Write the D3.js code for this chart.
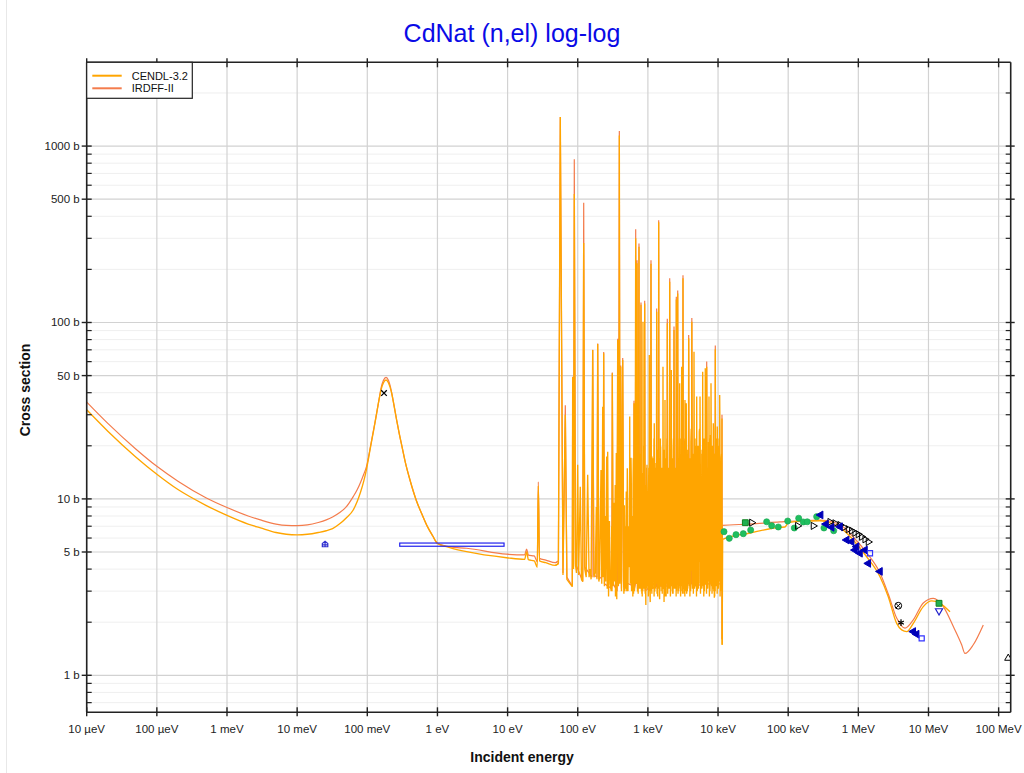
<!DOCTYPE html>
<html><head><meta charset="utf-8">
<script src="https://cdn.jsdelivr.net/npm/d3@7"></script>
<style>
body{margin:0;background:#fff;}
text{font-family:"Liberation Sans",Arial,sans-serif;}
</style>
</head><body>
<svg id="c" width="1024" height="773"></svg>
<script>
// ---------------- data ----------------
const titleText = "CdNat (n,el) log-log";
const xTickValues = [1e-5,1e-4,1e-3,1e-2,1e-1,1,10,100,1e3,1e4,1e5,1e6,1e7,1e8];
const xTickLabels = ["10 µeV","100 µeV","1 meV","10 meV","100 meV","1 eV","10 eV","100 eV","1 keV","10 keV","100 keV","1 MeV","10 MeV","100 MeV"];
const yLabelValues = [1,5,10,50,100,500,1000];
const yLabelTexts = ["1 b","5 b","10 b","50 b","100 b","500 b","1000 b"];
const seriesNames = ["CENDL-3.2","IRDFF-II"];
const seriesColors = ["#ffa500","#f47c4c"];

// CENDL-3.2 [energy eV, cross section b]
const cendlLow = [[1e-5,32.0],[2e-5,24.2],[5e-5,17.3],[1e-4,13.8],[2e-4,11.3],[5e-4,9.2],[1e-3,8.06],[2e-3,7.2],[3e-3,6.85],[5e-3,6.45],[7e-3,6.3],[1e-2,6.25],[1.4e-2,6.3],[2e-2,6.45],[2.6e-2,6.6],[3.2e-2,6.78],[4e-2,7.2],[5e-2,7.8],[6.3e-2,8.65],[7.2e-2,9.7],[8e-2,10.9],[8.9e-2,12.6],[0.098,14.9],[0.105,17.3],[0.113,20.4],[0.125,25.3],[0.136,30.6],[0.147,36.5],[0.157,41.5],[0.17,45.5],[0.185,47.2],[0.2,45.5],[0.22,40.5],[0.24,34],[0.262,28],[0.285,23.5],[0.313,19.7],[0.35,16],[0.406,12.8],[0.5,9.8],[0.6,8.2],[0.703,7.1],[0.85,6.2],[1.0,5.6],[1.5,5.3],[2.61,5.02],[9.7,4.64],[17.5,4.54],[18.7,5.0],[19.8,4.52],[24,4.45],[26.5,4.1],[27.4,11.9],[28.5,4.45],[35,4.35],[48,4.2]];
const cendlRes = [[53,4.3],[56.4,1460],[61.6,3.7],[66.5,30],[70,3.5],[78,3.3],[83.6,3.18],[84.7,49],[87,4.0],[89.3,535],[93,4.2],[96,3.8],[99.8,15.6],[103,3.7],[108.7,11.7],[113,3.5],[117.8,3.4],[121.6,282],[126,4.0],[132,3.6],[138.6,13.7],[145,3.6],[150,4.0],[155,3.5],[163.4,69.8],[170,3.6],[178,3.8],[184,9.0],[188,3.5],[192.5,75.5],[200,3.4],[205,3.7],[214.5,14.6],[220,3.3],[227,33.3],[230,3.6],[234.4,66.9],[240,3.2],[246,8.0],[250,3.4],[258.7,17.4],[263,3.1],[267.3,18.5],[275,2.8],[283,7.5],[290,3.3],[300,3.0],[311,51.5],[320,3.2],[328,9.5],[335,3.4],[345,2.8],[354.7,18.2],[360,2.7],[371.5,79.6],[380,3.2],[391.7,1150],[400,3.3],[409.7,56.1],[420,3.0],[428,12],[437.5,61.3],[450,3.4],[461.3,9.2],[470,3.0],[480,3.1],[492,11],[500,3.0],[508.7,14.9],[520,3.0],[528,7],[535,4.5],[550.8,29.3],[560,3.3],[567,10],[574.6,17.1],[585,3.0],[592,8],[600,3.1],[615,12],[625,2.9],[634,34.8],[642,3.0],[650,3.2],[660,14],[670,300],[685,3.4],[692,9],[699.5,217],[710,3.0],[720,3.0],[732,16],[746.5,269],[758,3.1],[770,3.3],[782,18],[797.6,126],[810,3.0],[820,2.9],[835,13],[851.5,101],[865,3.2],[875,3.1],[887,20],[900,128],[915,2.9],[935,2.5],[952,9],[970,15.6],[985,3.2],[1000,3.2],[1020,11],[1047,65.4],[1065,3.0],[1080,2.6],[1095,12],[1107,215],[1125,3.0],[1143,17.4],[1160,3.3],[1175,13],[1190,3.5],[1210,9],[1233,26.8],[1255,3.0],[1280,3.1],[1305,16],[1334,115],[1355,3.0],[1380,2.8],[1400,14],[1425,370],[1445,3.1],[1470,2.7],[1495,11],[1522,19.8],[1550,3.2],[1580,3.0],[1610,15],[1641,56.1],[1670,3.1],[1700,2.6],[1725,12],[1753,36.4],[1785,3.1],[1820,2.8],[1855,18],[1891,99],[1925,3.2],[1960,3.3],[2000,14],[2046,170],[2075,3.1],[2100,3.0],[2130,16],[2158,53.8],[2200,3.2],[2250,2.9],[2300,19],[2357,90.7],[2400,3.2],[2450,3.1],[2500,15],[2542,135],[2570,3.2],[2600,3.4],[2630,20],[2661,146],[2700,3.2],[2750,3.0],[2800,17],[2840,45.2],[2890,3.2],[2940,3.1],[2990,22],[3034,56.1],[3070,3.2],[3100,3.3],[3130,14],[3165,178],[3220,3.2],[3280,2.9],[3330,19],[3379,36.4],[3420,3.3],[3450,3.2],[3490,16],[3526,34.8],[3590,3.1],[3650,3.0],[3720,18],[3816,81.3],[3900,3.2],[4000,3.3],[4100,21],[4230,101],[4320,3.1],[4400,3.3],[4470,17],[4543,68.3],[4650,3.2],[4750,3.2],[4850,20],[4963,38],[5100,3.1],[5250,3.1],[5400,24],[5533,38],[5650,3.2],[5800,3.3],[5920,19],[6043,52.6],[6170,3.2],[6300,3.2],[6430,22],[6580,55],[6670,3.3],[6750,3.5],[6890,56.1],[7020,3.2],[7150,3.3],[7300,21],[7431,38],[7560,3.3],[7700,3.2],[7820,23],[7937,45.2],[8100,3.2],[8250,3.1],[8400,19],[8557,26.8],[8700,3.0],[8850,2.75],[9000,18],[9140,70.5],[9300,3.2],[9450,3.2],[9600,20],[9754,25.7],[9950,3.3],[10150,3.3],[10350,22],[10550,38.8],[10750,3.2],[10950,3.2],[11150,17],[11380,28.6],[11450,1.49]];
// CENDL-3.2 smaller overlapping resonances (merged with cendlRes by energy)
const cendlResSmall = [[305,7],[308,3.0],[342,12],[348,3.9],[385,5],[388,3.3],[415,9],[418,4.4],[445,15],[455,2.9],[475,7],[477,3.6],[515,10],[517,3.1],[545,6],[547,4.1],[580,13],[582,3.4],[605,8],[610,2.8],[620,17],[622,3.0],[655,9],[657,3.9],[677,6],[680,3.3],[705,12],[707,4.4],[725,5],[727,2.9],[752,11],[755,3.6],[775,16],[777,3.1],[790,7],[793,4.1],[815,10],[818,3.4],[828,6],[830,2.8],[843,14],[846,3.0],[858,8],[861,3.9],[880,18],[883,3.3],[893,9],[896,4.4],[925,12],[930,2.9],[942,6],[946,3.6],[960,15],[964,3.1],[978,8],[981,4.1],[992,11],[996,3.4],
[1010,8],[1014,2.8],[1030,15],[1035,3.0],[1055,6],[1060,3.9],[1088,11],[1091,3.3],[1115,19],[1119,4.4],[1135,9],[1139,2.9],[1152,13],[1156,3.6],[1168,7],[1171,3.1],[1182,17],[1186,4.1],[1200,10],[1205,3.4],[1220,22],[1226,2.8],[1245,12],[1250,3.0],[1268,8],[1273,3.9],[1292,15],[1298,3.3],[1318,6],[1325,4.4],[1345,11],[1350,2.9],[1368,19],[1374,3.6],[1390,9],[1395,3.1],[1412,13],[1418,4.1],[1435,7],[1440,3.4],[1458,17],[1464,2.8],[1482,10],[1488,3.0],[1508,22],[1515,3.9],[1535,12],[1542,3.3],[1565,8],[1572,4.4],[1595,15],[1602,2.9],[1625,6],[1633,3.6],[1655,11],[1662,3.1],[1685,19],[1692,4.1],[1712,9],[1718,3.4],[1740,13],[1746,2.8],[1768,7],[1776,3.0],[1800,17],[1810,3.9],[1838,10],[1846,3.3],[1872,22],[1880,4.4],[1908,12],[1916,2.9],[1942,8],[1950,3.6],[1980,15],[1990,3.1],[2020,6],[2030,4.1],[2060,11],[2068,3.4],[2088,19],[2094,2.8],[2115,9],[2122,3.0],[2145,13],[2150,3.9],[2180,7],[2190,3.3],[2225,17],[2235,4.4],[2275,10],[2285,2.9],[2320,22],[2330,3.6],[2380,12],[2390,3.1],[2425,8],[2435,4.1],[2475,15],[2485,3.4],[2520,6],[2528,2.8],[2555,11],[2562,3.0],[2585,19],[2592,3.9],[2615,9],[2622,3.3],[2645,13],[2652,4.4],[2680,7],[2690,2.9],[2720,17],[2730,3.6],[2775,10],[2785,3.1],[2820,22],[2830,4.1],[2865,12],[2875,3.4],[2915,8],[2925,2.8],[2965,15],[2975,3.0],[3010,6],[3020,3.9],[3050,11],[3060,3.3],[3085,19],[3092,4.4],[3115,9],[3122,2.9],[3145,13],[3150,3.6],[3190,7],[3200,3.1],[3250,17],[3260,4.1],[3305,10],[3315,3.4],[3355,22],[3365,2.8],[3400,12],[3410,3.0],[3435,8],[3442,3.9],[3470,15],[3480,3.3],[3510,6],[3518,4.4],[3555,11],[3570,2.9],[3620,19],[3635,3.6],[3685,9],[3700,3.1],[3750,13],[3765,4.1],[3850,7],[3870,3.4],[3950,17],[3970,2.8],
[4050,13],[4070,3.0],[4150,25],[4170,3.9],[4270,15],[4290,3.3],[4360,11],[4380,4.4],[4430,18],[4450,2.9],[4500,9],[4520,3.6],[4590,14],[4610,3.1],[4700,22],[4720,4.1],[4800,12],[4820,3.4],[4900,16],[4930,2.8],[5000,10],[5030,3.0],[5170,20],[5200,3.9],[5320,13],[5350,3.3],[5460,25],[5500,4.4],[5590,15],[5620,2.9],[5720,11],[5760,3.6],[5860,18],[5890,3.1],[5980,9],[6010,4.1],[6100,14],[6130,3.4],[6230,22],[6260,2.8],[6360,12],[6400,3.0],[6490,16],[6530,3.9],[6620,10],[6640,3.3],[6710,20],[6730,4.4],[6810,13],[6850,2.9],[6950,25],[6990,3.6],[7080,15],[7120,3.1],[7220,11],[7260,4.1],[7370,18],[7400,3.4],[7490,9],[7530,2.8],[7620,14],[7660,3.0],[7760,22],[7790,3.9],[7880,12],[7910,3.3],[8020,16],[8060,4.4],[8170,10],[8210,2.9],[8320,20],[8360,3.6],[8480,13],[8520,3.1],[8620,25],[8660,4.1],[8780,15],[8820,3.4],[8920,11],[8960,2.8],[9070,18],[9110,3.0],[9220,9],[9260,3.9],[9380,14],[9420,3.3],[9530,22],[9570,4.4],[9680,12],[9720,2.9],[9830,16],[9880,3.6],[10050,10],[10100,3.1],[10250,20],[10300,4.1],[10450,13],[10500,3.4],[10650,25],[10700,2.8],[10850,15],[10900,3.0],[11050,11],[11100,3.9],[11250,18],[11300,3.3]];
const cendlHigh = [[11640,5.9],[28500,6.41],[76350,6.90],[90000,6.93],[100200,7.33],[147200,7.46],[283800,7.52],[439500,7.20],[610000,6.66],[847000,5.85],[1.315e6,4.70],[2.036e6,3.62],[2.673e6,2.79],[3.52e6,1.97],[4.15e6,1.81],[4.89e6,1.77],[6.07e6,1.97],[8.43e6,2.45],[1.111e7,2.64],[1.459e7,2.56],[2.027e7,2.29]];

// IRDFF-II [energy eV, cross section b]
const irdffLow = [[1e-5,35.4],[2e-5,26.8],[5e-5,19.2],[1e-4,15.3],[2e-4,12.6],[5e-4,10.16],[1e-3,8.94],[2e-3,8.0],[3e-3,7.6],[5e-3,7.2],[7e-3,7.07],[1e-2,7.05],[1.4e-2,7.12],[2e-2,7.35],[2.6e-2,7.6],[3.2e-2,7.9],[4e-2,8.35],[5e-2,9.0],[6.3e-2,10.3],[7.2e-2,11.3],[8e-2,12.4],[8.9e-2,13.8],[0.098,15.4],[0.105,17.6],[0.113,20.6],[0.125,25.5],[0.136,30.6],[0.147,36.5],[0.157,42.4],[0.17,47],[0.185,48.9],[0.2,47],[0.22,41],[0.24,34],[0.262,28],[0.285,23.5],[0.313,19.7],[0.35,16],[0.406,12.8],[0.5,9.8],[0.6,8.2],[0.703,7.1],[0.85,6.2],[1.0,5.6],[1.5,5.35],[2.61,5.25],[9.7,4.86],[17.5,4.81],[18.7,5.2],[19.8,4.8],[24,4.75],[26.5,4.4],[27.4,12.5],[28.5,4.6],[35,4.5],[48,4.35]];
const irdffRes = [[53,4.45],[56.4,1460],[61.6,3.8],[66.5,34],[70,3.6],[83.6,3.2],[84.7,49.3],[87,4.1],[89.3,841],[93,4.3],[117.8,3.4],[121.6,478],[126,4.1],[160,3.6],[163.4,70],[170,3.7],[188,3.6],[192.5,76],[200,3.5],[230,3.7],[234.4,68],[240,3.3],[305,3.1],[311,52],[320,3.3],[365,3.0],[371.5,81],[380,3.3],[391.7,1218],[400,3.4],[409.7,57],[420,3.1],[437.5,63],[450,3.4],[628,3.2],[634,36],[642,3.1],[664,3.3],[670,338],[685,3.5],[694,3.3],[699.5,225],[710,3.1],[740,3.2],[746.5,280],[758,3.2],[790,3.3],[797.6,130],[810,3.1],[892,3.2],[900,133],[915,3.0],[1098,3.2],[1107,225],[1125,3.1],[1320,3.2],[1334,120],[1355,3.1],[1410,3.2],[1425,380],[1445,3.2],[1870,3.2],[1891,105],[1925,3.3],[2025,3.3],[2046,178],[2075,3.2],[2330,3.3],[2357,95],[2400,3.3],[2520,3.3],[2542,140],[2570,3.3],[2640,3.3],[2661,152],[2700,3.3],[3140,3.3],[3165,185],[3220,3.3],[3780,3.3],[3816,85],[3900,3.3],[4180,3.3],[4230,106],[4320,3.2],[6800,3.3],[6890,60],[7020,3.3],[9050,3.3],[9140,74],[9300,3.3],[11300,3.3],[11380,30],[11450,1.6]];
const irdffHigh = [[11500,7.08],[28500,7.20],[76350,7.40],[147200,7.52],[283800,7.59],[439500,7.40],[610000,6.93],[847000,6.08],[1.315e6,4.94],[2.036e6,3.80],[2.673e6,2.89],[3.52e6,2.11],[4.62e6,1.85],[6.07e6,2.06],[8.43e6,2.57],[1.17e7,2.73],[1.626e7,2.45],[2.26e7,1.89],[2.97e7,1.49],[3.31e7,1.33],[4.35e7,1.49],[6.04e7,1.93]];

// experimental data [energy eV, cross section b]
const expHouse = [[0.025,5.55]];
const expTimes = [[0.173,39.8]];
const expBoxE = [0.29,8.9];
const expBoxS = [5.39,5.62];
const expGreenCircle = [[12160,6.52],[14460,5.98],[18030,6.27],[22910,6.35],[29190,6.66],[49330,7.42],[58210,7.05],[72270,6.93],[98400,7.49],[122200,6.84],[141200,7.77],[164100,7.40],[187100,7.42],[254700,7.93],[323600,6.84],[445600,6.60]];
const expGreenSquare = [[24490,7.33],[1.413e7,2.56]];
const expBlackTriRight = [[30200,7.33],[136500,7.03],[228000,7.03],[394400,7.40],[464500,7.27],[547000,7.11],[623700,6.90],[719000,6.73],[803500,6.60],[895400,6.43],[998000,6.30],[1.116e6,6.10],[1.245e6,5.90],[1.387e6,5.70]];
const expBlueTriLeft = [[290400,8.11],[345900,7.20],[416900,6.90],[547000,6.96],[682300,5.85],[803500,5.72],[895400,5.13],[946700,5.36],[1.057e6,4.92],[1.245e6,5.13],[1.387e6,4.31],[2.036e6,3.88],[6.07e6,1.77],[6.79e6,1.71]];
const expBlueOpen = [[1.466e6,4.92],[8.0e6,1.62]];
const expBlueTriDown = [[1.413e7,2.32]];
const expOtimes = [[3.71e6,2.48]];
const expAsterisk = [[4.06e6,1.99]];
const expBlackTriUp = [[1.37e8,1.25]];

// ---------------- chart ----------------
const svg = d3.select("#c");
const L=86.7, R=1010.7, T=62.3, B=712.3;
const x = d3.scaleLog().domain([1e-5,1.486e8]).range([L,R]);
const y = d3.scaleLog().domain([0.617,2985]).range([B,T]);

svg.append("line").attr("x1",6.5).attr("x2",6.5).attr("y1",0).attr("y2",773).attr("stroke","#e8e8e8");

svg.append("text").attr("x",512).attr("y",42).attr("text-anchor","middle")
  .attr("font-size",25).attr("fill","#0a0ae6").text(titleText);

// grid
const g = svg.append("g");
const yMinor = y.ticks().filter(v=>!yLabelValues.some(u=>Math.abs(u-v)/u<1e-6));
g.selectAll(".ym").data(yMinor).join("line")
  .attr("x1",L).attr("x2",R).attr("y1",d=>y(d)).attr("y2",d=>y(d))
  .attr("stroke","#efefef").attr("stroke-width",1);
g.selectAll(".yM").data(yLabelValues).join("line")
  .attr("x1",L).attr("x2",R).attr("y1",d=>y(d)).attr("y2",d=>y(d))
  .attr("stroke","#d2d2d2").attr("stroke-width",1.2);
g.selectAll(".xM").data(xTickValues).join("line")
  .attr("x1",d=>x(d)).attr("x2",d=>x(d)).attr("y1",T).attr("y2",B)
  .attr("stroke","#d2d2d2").attr("stroke-width",1.2);

svg.append("clipPath").attr("id","clip").append("rect")
  .attr("x",L).attr("y",T).attr("width",R-L).attr("height",B-T);
const plot = svg.append("g").attr("clip-path","url(#clip)");

const line = d3.line().x(d=>x(d[0])).y(d=>y(d[1]));
const lineSmooth = d3.line().x(d=>x(d[0])).y(d=>y(d[1])).curve(d3.curveMonotoneX);
const byE = (a,b)=>a[0]-b[0];

function drawSeries(low,res,high,color,w){
  plot.append("path").attr("d",lineSmooth(low.concat(res.slice(0,1))))
    .attr("fill","none").attr("stroke",color).attr("stroke-width",w);
  plot.append("path").attr("d",line(low.slice(-1).concat(res)))
    .attr("fill","none").attr("stroke",color).attr("stroke-width",w).attr("stroke-linejoin","bevel");
  plot.append("path").attr("d",lineSmooth(res.slice(-1).concat(high)))
    .attr("fill","none").attr("stroke",color).attr("stroke-width",w);
}
drawSeries(irdffLow,irdffRes,irdffHigh,seriesColors[1],1.2);
drawSeries(cendlLow,cendlRes.concat(cendlResSmall).sort(byE),cendlHigh,seriesColors[0],1.35);

// experimental points
plot.append("rect").attr("x",x(expBoxE[0])).attr("y",y(expBoxS[1]))
  .attr("width",x(expBoxE[1])-x(expBoxE[0])).attr("height",y(expBoxS[0])-y(expBoxS[1]))
  .attr("fill","none").attr("stroke","#2222ee").attr("stroke-width",1.2);

function sym(data,type,size,fill,stroke,rot,sw){
  plot.append("g").selectAll("path").data(data).join("path")
    .attr("transform",d=>`translate(${x(d[0])},${y(d[1])}) rotate(${rot||0})`)
    .attr("d",d3.symbol().type(type).size(size))
    .attr("fill",fill).attr("stroke",stroke).attr("stroke-width",sw||1);
}
const house = {draw(ctx,size){const r=Math.sqrt(size)/2;
  ctx.moveTo(-r,r);ctx.lineTo(-r,-r*0.2);ctx.lineTo(0,-r);ctx.lineTo(r,-r*0.2);ctx.lineTo(r,r);ctx.closePath();
  ctx.moveTo(0,-r);ctx.lineTo(0,r);ctx.moveTo(-r,r*0.3);ctx.lineTo(r,r*0.3);}};
sym(expHouse,house,30,"none","#3030d0",0,1.2);
sym(expTimes,d3.symbolTimes,22,"none","#000",0,1.3);
sym(expGreenCircle,d3.symbolCircle,30,"#1fbf5f","#1aa550",0,0.6);
sym(expGreenSquare,d3.symbolSquare,34,"#20b050","#108020",0,1);
sym(expBlackTriRight,d3.symbolTriangle,22,"none","#000",90,1);
sym(expBlueTriLeft,d3.symbolTriangle,26,"#0000b8","#0000b8",-90,1);
sym(expBlueOpen,d3.symbolSquare,26,"none","#3333ff",0,1.2);
sym(expBlueTriDown,d3.symbolTriangle,22,"none","#2222cc",180,1.2);
sym(expOtimes,d3.symbolCircle,36,"none","#000",0,1);
sym(expOtimes,d3.symbolTimes,16,"none","#000",0,1);
sym(expAsterisk,d3.symbolAsterisk,30,"none","#000",0,1.2);
sym(expBlackTriUp,d3.symbolTriangle,22,"none","#000",0,1);

// axes frame
const ax = svg.append("g").attr("stroke","#222");
ax.append("line").attr("x1",L).attr("x2",L).attr("y1",T).attr("y2",B).attr("stroke-width",1.6);
ax.append("line").attr("x1",R).attr("x2",R).attr("y1",T).attr("y2",B).attr("stroke-width",1.6);
ax.append("line").attr("x1",L).attr("x2",R).attr("y1",B).attr("y2",B).attr("stroke-width",1.6);
ax.append("line").attr("x1",L).attr("x2",R).attr("y1",T).attr("y2",T).attr("stroke-width",1.6);
ax.selectAll(".ytm").data(yMinor).join("line").attr("x1",L).attr("x2",L+5).attr("y1",d=>y(d)).attr("y2",d=>y(d)).attr("stroke-width",1.2);
ax.selectAll(".ytm2").data(yMinor).join("line").attr("x1",R-5).attr("x2",R).attr("y1",d=>y(d)).attr("y2",d=>y(d)).attr("stroke-width",1.2);
ax.selectAll(".ytM").data(yLabelValues).join("line").attr("x1",L-5).attr("x2",L+5).attr("y1",d=>y(d)).attr("y2",d=>y(d)).attr("stroke-width",1.4);
ax.selectAll(".ytM2").data(yLabelValues).join("line").attr("x1",R-5).attr("x2",R+4).attr("y1",d=>y(d)).attr("y2",d=>y(d)).attr("stroke-width",1.4);
ax.selectAll(".xt").data(xTickValues).join("line").attr("x1",d=>x(d)).attr("x2",d=>x(d)).attr("y1",B-5).attr("y2",B+4).attr("stroke-width",1.4);
ax.selectAll(".xt2").data(xTickValues).join("line").attr("x1",d=>x(d)).attr("x2",d=>x(d)).attr("y1",T-4).attr("y2",T+5).attr("stroke-width",1.4);

svg.selectAll(".xl").data(xTickValues).join("text")
  .attr("x",d=>x(d)).attr("y",733).attr("text-anchor","middle").attr("font-size",11.5).attr("fill","#222")
  .text((d,i)=>xTickLabels[i]);
svg.selectAll(".yl").data(yLabelValues).join("text")
  .attr("x",L-7).attr("y",d=>y(d)+4).attr("text-anchor","end").attr("font-size",11.5).attr("fill","#222")
  .text((d,i)=>yLabelTexts[i]);

svg.append("text").attr("x",522).attr("y",762).attr("text-anchor","middle")
  .attr("font-size",14).attr("font-weight","bold").attr("fill","#111").text("Incident energy");
svg.append("text").attr("transform","translate(30,390) rotate(-90)").attr("text-anchor","middle")
  .attr("font-size",14).attr("font-weight","bold").attr("fill","#111").text("Cross section");

// legend
const lg = svg.append("g");
lg.append("rect").attr("x",L).attr("y",T).attr("width",105.6).attr("height",36)
  .attr("fill","#fff").attr("stroke","#222").attr("stroke-width",1.2);
seriesNames.forEach((n,i)=>{
  const yy = T+13.4+i*12.6;
  lg.append("line").attr("x1",92.3).attr("x2",121.7).attr("y1",yy).attr("y2",yy)
    .attr("stroke",seriesColors[i]).attr("stroke-width",2);
  lg.append("text").attr("x",131.7).attr("y",yy+4).attr("font-size",11).attr("fill","#111").text(n);
});
</script>
</body></html>
